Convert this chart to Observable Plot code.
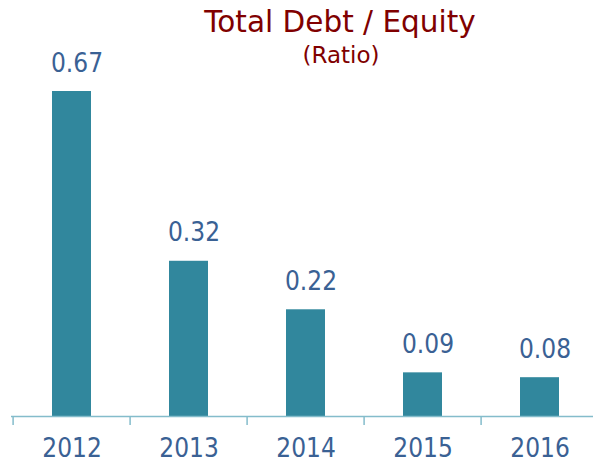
<!DOCTYPE html>
<html>
<head>
<meta charset="utf-8">
<script src="https://cdn.jsdelivr.net/npm/d3@7"></script>
<script src="https://cdn.jsdelivr.net/npm/@observablehq/plot@0.6"></script>
<style>
  html, body { margin: 0; padding: 0; background: #fff; overflow: hidden; }
  #wrap { position: relative; width: 593px; height: 465px; overflow: hidden; font-family: "DejaVu Sans", "Liberation Sans", sans-serif; }
  #title { position: absolute; left: 40px; width: 600px; top: 4px; text-align: center; color: #800000; font-size: 29.5px; line-height: 36px; white-space: nowrap; }
  #subtitle { position: absolute; left: 41px; width: 600px; top: 40px; text-align: center; color: #800000; font-size: 23px; line-height: 30px; white-space: nowrap; }
  #chart { position: absolute; left: 0; top: 0; }
</style>
</head>
<body>
<div id="wrap">
  <div id="chart"></div>
  <div id="title">Total Debt / Equity</div>
  <div id="subtitle">(Ratio)</div>
</div>
<script>
const years = ["2012", "2013", "2014", "2015", "2016"];
const ratios = [0.67, 0.32, 0.22, 0.09, 0.08];
const labels = ["0.67", "0.32", "0.22", "0.09", "0.08"];

const data = years.map((y, i) => ({year: y, value: ratios[i], label: labels[i]}));

const barColor = "#31879d";
const textColor = "#3a6194";
const axisColor = "#84bccb";
const numFont = "'DejaVu Sans Condensed', 'Liberation Sans', sans-serif";
const step = (600 - 11) / years.length;

const chart = Plot.plot({
  width: 593,
  height: 465,
  marginTop: 91,
  marginBottom: 49,
  marginLeft: 11,
  marginRight: 0,
  style: {fontFamily: numFont, background: "transparent", overflow: "visible"},
  x: {domain: years, range: [11, 600], paddingInner: 0.665, paddingOuter: 0.3325, axis: null},
  y: {domain: [0, 0.67], axis: null},
  marks: [
    Plot.barY(data, {x: "year", y: "value", fill: barColor}),
    Plot.ruleY([0], {stroke: axisColor, strokeWidth: 1.5}),
    Plot.axisX({tickSize: 9, tickFormat: () => "", dx: -step / 2, stroke: axisColor, strokeWidth: 1.5, label: null}),
    Plot.axisX({tickSize: 0, tickPadding: 22, fontSize: 26, fill: textColor, label: null}),
    Plot.text(data, {x: "year", y: "value", text: "label", lineAnchor: "bottom", dy: -20, dx: 5, fontSize: 26, fill: textColor})
  ]
});
document.getElementById("chart").appendChild(chart);
</script>
</body>
</html>
